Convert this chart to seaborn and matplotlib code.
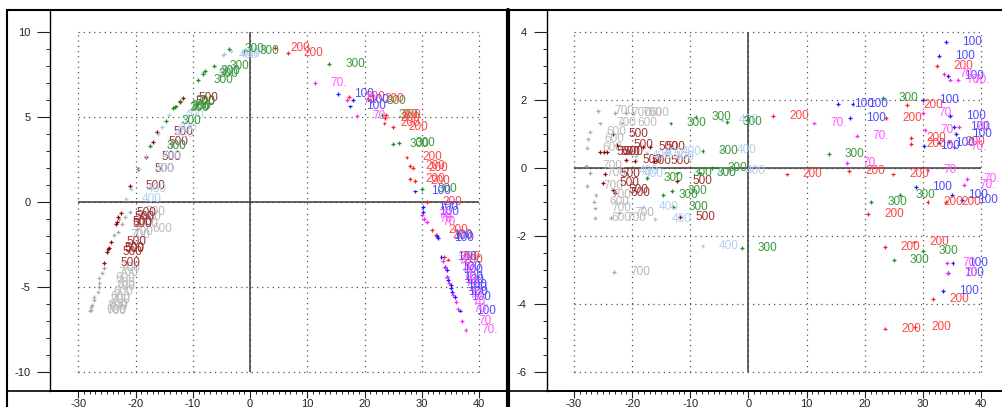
import matplotlib
matplotlib.use("Agg")
import numpy as np
import pandas as pd
import matplotlib.pyplot as plt
import seaborn as sns
from matplotlib.ticker import FixedLocator

# 점별 라벨과 주성분 점수 (PC1 공통, 왼쪽 = PC2, 오른쪽 = PC3)
labels = (["700", "700", "700", "600", "700", "600", "600", "600", "600", "700",
           "700", "700", "700", "600", "700", "600", "700", "700", "700"]
          + ["500"] * 16 + ["400"] * 13 + ["300"] * 18
          + ["200"] * 18 + ["100"] * 18 + ["70."] * 15)

pc1 = [
    # 700 / 600
    -25.8, -22.9, -21.0, -19.8, -25.5, -21.8, -27.2, -27.6, -27.8, -27.9,
    -27.2, -27.7, -26.3, -26.6, -26.4, -26.4, -23.7, -22.3, -23.1,
    # 500
    -25.5, -25.0, -24.8, -24.7, -24.3, -23.35, -23.3, -23.0, -22.6, -21.0,
    -19.5, -18.2, -17.0, -16.2, -12.3, -11.8,
    # 400
    -3.3, -4.5, -4.8, -7.9, -8.2, -14.2, -15.4, -16.0, -17.4, -18.2, -19.4, -20.8, -21.7,
    # 300
    -17.4, -14.7, -13.4, -13.2, -13.0, -12.3, -9.1, -8.3, -7.9, -6.3,
    -3.7, -1.1, 13.8, 21.1, 23.1, 25.0, 26.0, 30.0,
    # 200
    4.3, 6.6, 17.3, 20.6, 23.45, 23.5, 23.7, 24.9, 27.3, 27.9,
    27.9, 28.4, 28.7, 30.8, 31.8, 32.5, 33.9, 34.5,
    # 100
    15.4, 17.5, 17.9, 28.8, 30.1, 30.2, 32.7, 32.8, 33.4, 34.0,
    34.3, 34.4, 34.6, 35.0, 35.1, 35.3, 35.7, 36.7,
    # 70.
    11.3, 16.9, 18.6, 30.0, 30.3, 30.8, 33.6, 34.1, 34.4, 34.7,
    35.4, 36.0, 36.2, 37.0, 37.6,
]

pc2 = [
    -4.2, -1.0, -0.6, -1.6, -3.9, -0.9, -5.6, -6.1, -6.35, -6.4,
    -5.8, -6.2, -4.8, -5.3, -5.0, -4.5, -1.96, -1.3, -1.8,
    -3.6, -2.95, -2.8, -2.74, -2.35, -1.3, -1.2, -0.9, -0.65, 0.9,
    1.9, 2.65, 3.5, 4.1, 5.85, 6.1,
    8.85, 8.7, 8.6, 7.7, 7.6, 5.1, 4.4, 4.0, 3.3, 2.7, 1.95, 0.75, 0.15,
    3.25, 4.75, 5.5, 5.55, 5.6, 5.9, 7.16, 7.5, 7.7, 8.0,
    8.96, 8.85, 8.08, 5.9, 5.1, 3.4, 3.45, 0.75,
    9.06, 8.76, 6.18, 6.05, 4.6, 4.9, 5.1, 4.4, 2.6, 2.1,
    1.33, 1.96, 1.2, -0.04, -1.66, -1.96, -3.27, -3.4,
    6.31, 5.6, 6.0, 0.6, -0.3, -0.6, -2.0, -2.15, -3.25, -3.85,
    -4.0, -4.4, -4.6, -4.9, -5.1, -5.3, -5.6, -6.4,
    6.96, 5.98, 5.04, -0.78, -1.0, -1.2, -3.5, -3.9, -4.4, -4.8,
    -5.5, -5.9, -6.3, -7.0, -7.55,
]

pc3 = [
    1.68, 1.62, 1.62, 1.62, 1.30, 1.30, 1.05, 0.85, 0.57, 0.05,
    -0.15, -0.55, -0.80, -1.00, -1.20, -1.48, -1.48, -1.32, -3.06,
    0.45, -0.46, 0.45, -0.18, 0.45, 1.00, -0.66, -0.75, 0.67, 0.22,
    0.20, 0.62, 0.60, 0.20, -0.39, -1.44,
    -0.10, 1.40, 0.52, -2.30, -0.17, 0.45, 0.30, -1.50, 0.42, -1.15, 0.35, -0.20, -0.10,
    -0.31, -0.81, 1.30, -0.68, -1.15, -0.17, 1.50, -0.17, 0.50, 0.00,
    1.35, -2.37, 0.39, -1.00, 2.04, -2.72, -0.80, -2.44,
    1.53, -0.20, -0.09, -1.37, -2.32, -4.73, 1.47, -0.20, 1.84, 0.88,
    0.70, -2.20, -4.68, -1.00, -3.86, 3.00, -1.00, 0.76,
    1.88, 1.45, 1.86, -0.56, 2.00, 0.65, 3.28, 0.74, -3.63, 3.71,
    -3.10, 2.70, 1.52, -0.80, -2.80, 1.20, 1.00, -0.95,
    1.30, 0.13, 0.93, 1.60, 1.10, -0.07, 2.75, -2.80, -3.10, 2.58,
    0.62, 2.58, 1.20, -0.51, -0.33,
]

dot_colors = {"100": "#1a1aff", "200": "#ff2020", "300": "#1f8f1f", "400": "#a8c8ee",
              "500": "#8b0a0a", "600": "#b0b0b0", "700": "#a8a8a8", "70.": "#ff22ff"}
text_colors = {"100": "#4d4dff", "200": "#ff4545", "300": "#3a9a3a", "400": "#b3d0f2",
               "500": "#a03030", "600": "#bdbdbd", "700": "#b8b8b8", "70.": "#ff55ff"}

df = pd.DataFrame({"label": labels, "pc1": pc1, "pc2": pc2, "pc3": pc3})

sns.set_style("white")
plt.rcParams["font.family"] = ["Liberation Sans", "DejaVu Sans"]
plt.rcParams["axes.unicode_minus"] = False

W, H = 1003, 407
fig = plt.figure(figsize=(W / 100, H / 100), dpi=100)

# 패널 설정: (y축 컬럼, 축 위치(px), x범위, y범위, y 주눈금, y 보조눈금)
panels = [
    ("pc2", (50.5, 505), (-34.85, 44.49), (-11.135, 11.276), np.arange(-10, 11, 5), np.arange(-10, 11, 1)),
    ("pc3", (546.5, 1003), (-34.73, 43.78), (-6.568, 4.638), np.arange(-6, 5, 2), np.arange(-6, 4.01, 0.5)),
]

xmaj = np.arange(-30, 41, 10)
xmin_ticks = np.arange(-30, 41, 1)

for ycol, (px0, px1), xlim, ylim, ymaj, ymin in panels:
    ax = fig.add_axes([px0 / W, (H - 391) / H, (px1 - px0) / W, (391 - 10) / H])
    ax.set_xlim(*xlim)
    ax.set_ylim(*ylim)

    # 점선 격자 (데이터 범위 안쪽만)
    ax.hlines(ymaj, -30, 40, colors="#555555", linestyles=(0, (1, 3.2)), lw=0.9, zorder=1)
    ax.vlines(xmaj, ymaj[0], ymaj[-1], colors="#555555", linestyles=(0, (1, 3.2)), lw=0.9, zorder=1)
    ax.hlines(0, -30, 40, colors="#3a3a3a", lw=1.1, zorder=2)
    ax.vlines(0, ymaj[0], ymaj[-1], colors="#3a3a3a", lw=1.1, zorder=2)

    sns.scatterplot(data=df, x="pc1", y=ycol, hue="label", palette=dot_colors,
                    marker="+", s=8, linewidth=0.9, legend=False, ax=ax, zorder=3)
    for lab, xv, yv in zip(df["label"], df["pc1"], df[ycol]):
        ax.annotate(lab, (xv, yv), xytext=(11.5, 0), textcoords="offset points",
                    va="center", ha="left", fontsize=8.5, color=text_colors[lab],
                    annotation_clip=False, zorder=4)

    ax.set_xlabel("")
    ax.set_ylabel("")
    for side in ["top", "right"]:
        ax.spines[side].set_visible(False)
    ax.spines["left"].set_color("black")
    ax.spines["left"].set_linewidth(1.0)
    ax.spines["bottom"].set_color("black")
    ax.spines["bottom"].set_linewidth(1.2)

    ax.xaxis.set_major_locator(FixedLocator(xmaj))
    ax.xaxis.set_minor_locator(FixedLocator(xmin_ticks))
    ax.yaxis.set_major_locator(FixedLocator(ymaj))
    ax.yaxis.set_minor_locator(FixedLocator(ymin))
    ax.set_xticklabels([str(v) for v in xmaj])
    ax.set_yticklabels([str(v) for v in ymaj])
    ax.tick_params(axis="y", which="major", direction="out", length=9.4, width=0.8,
                   pad=5, labelsize=8, colors="#222222", left=True)
    ax.tick_params(axis="y", which="minor", direction="out", length=2.8, width=0.7, left=True)
    ax.tick_params(axis="x", which="major", direction="out", length=5, width=0.8,
                   pad=1, labelsize=8, colors="#222222", bottom=True)
    ax.tick_params(axis="x", which="minor", direction="out", length=2.5, width=0.7, bottom=True)

# 바깥 테두리
frame = fig.add_axes([0, 0, 1, 1], zorder=10)
frame.set_xlim(0, W)
frame.set_ylim(H, 0)
frame.axis("off")
frame.plot([7, W], [10, 10], color="black", lw=1.5)
frame.plot([7.5, 7.5], [10, H], color="black", lw=1.5)
frame.plot([7, W], [391, 391], color="black", lw=1.2)
frame.plot([508.5, 508.5], [10, H], color="black", lw=3)

fig.savefig("out.png", dpi=100)
